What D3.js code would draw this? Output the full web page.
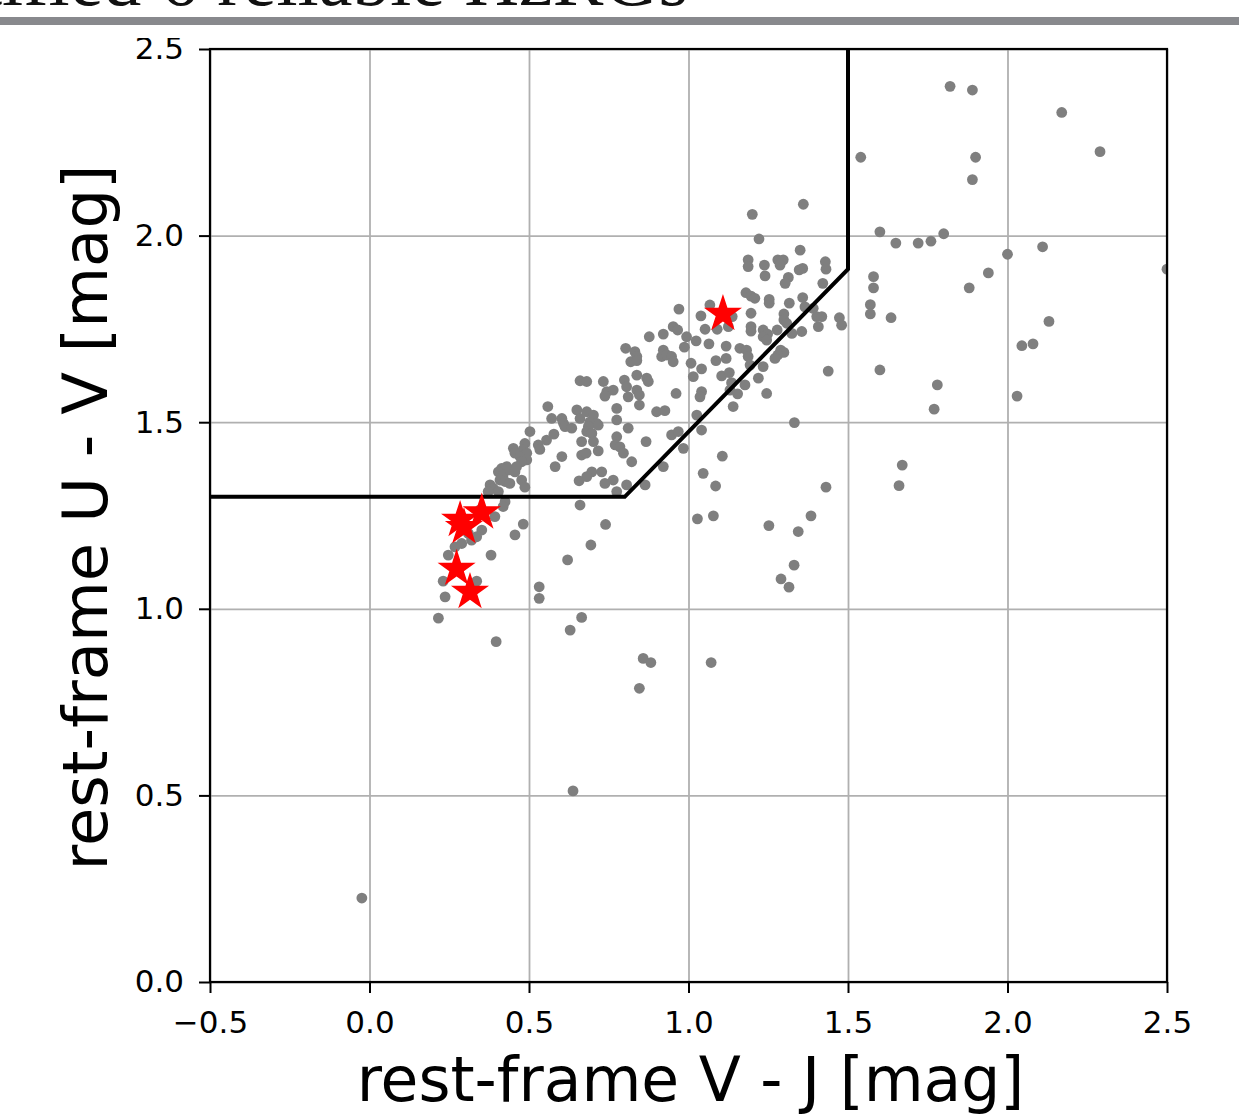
<!DOCTYPE html>
<html>
<head>
<meta charset="utf-8">
<script src="https://cdn.jsdelivr.net/npm/d3@7"></script>
<style>
  body { margin: 0; background: #fff; }
  svg { display: block; }
  text { font-family: "DejaVu Sans", sans-serif; }
</style>
</head>
<body>
<div id="chart"></div>
<script>
// rest-frame [V-J, U-V] of the comparison sample (gray dots)
const fieldGalaxies = [
  [1.82,2.40],[1.89,2.39],[2.17,2.33],[2.29,2.225],[1.54,2.21],[1.90,2.21],[1.89,2.15],[1.60,2.01],
  [1.65,1.98],[1.72,1.98],[1.76,1.985],[1.80,2.005],[2.00,1.95],[2.11,1.97],[2.50,1.91],[1.58,1.89],
  [1.58,1.86],[1.94,1.90],[1.88,1.86],[1.57,1.815],[1.57,1.79],[1.635,1.78],[2.13,1.77],[2.045,1.705],
  [2.08,1.71],[1.60,1.64],[1.78,1.60],[1.77,1.535],[2.03,1.57],[1.67,1.385],[1.66,1.33],
  [1.36,2.084],[1.20,2.057],[1.221,1.991],[1.35,1.961],[1.187,1.935],[1.187,1.917],[1.238,1.921],[1.24,1.892],
  [1.28,1.935],[1.297,1.935],[1.287,1.921],[1.358,1.912],[1.347,1.908],[1.429,1.93],[1.431,1.91],[1.313,1.888],
  [1.303,1.872],[1.421,1.872],[1.18,1.847],[1.196,1.838],[1.208,1.832],[1.253,1.829],[1.253,1.819],[1.316,1.819],
  [1.358,1.834],[0.97,1.803],[1.067,1.814],[1.039,1.785],[1.137,1.783],[1.052,1.749],[1.09,1.749],[1.125,1.756],
  [1.196,1.792],[1.196,1.756],[1.196,1.744],[1.234,1.747],[1.248,1.736],[1.299,1.79],[1.299,1.774],[1.278,1.747],
  [1.365,1.809],[1.391,1.805],[1.402,1.783],[1.418,1.783],[1.407,1.756],[1.473,1.78],[1.48,1.76],[1.355,1.743],
  [1.308,1.765],[1.324,1.738],[0.877,1.729],[0.921,1.736],[0.952,1.756],[0.966,1.747],[0.994,1.729],[1.024,1.718],
  [1.064,1.71],[1.118,1.704],[0.987,1.701],[0.921,1.693],[0.916,1.676],[0.932,1.68],[0.947,1.676],[0.952,1.662],
  [1.008,1.658],[1.086,1.665],[1.118,1.671],[1.161,1.698],[1.182,1.693],[1.187,1.676],[1.234,1.729],[1.245,1.72],
  [1.289,1.693],[1.299,1.687],[1.28,1.68],[1.271,1.671],[1.041,1.643],[1.015,1.622],[1.104,1.624],[1.128,1.633],
  [1.135,1.606],[1.193,1.653],[1.234,1.649],[1.219,1.618],[1.438,1.637],[0.869,1.618],[0.874,1.609],[0.961,1.577],
  [1.041,1.582],[1.036,1.568],[1.13,1.586],[1.154,1.576],[1.245,1.577],[1.177,1.6],
  [0.803,1.698],[0.832,1.689],[0.838,1.676],[0.819,1.662],[0.838,1.665],[0.838,1.626],[0.66,1.611],[0.681,1.609],
  [0.733,1.609],[0.799,1.613],[0.806,1.595],[0.811,1.568],[0.838,1.586],[0.846,1.573],[0.744,1.582],[0.764,1.586],
  [0.738,1.57],[0.846,1.546],[0.559,1.542],[0.65,1.533],[0.66,1.51],[0.681,1.528],[0.702,1.519],[0.691,1.501],
  [0.712,1.497],[0.717,1.492],[0.686,1.488],[0.681,1.475],[0.697,1.47],[0.775,1.537],[0.775,1.506],[0.811,1.484],
  [0.571,1.51],[0.603,1.51],[0.608,1.497],[0.613,1.488],[0.634,1.484],[0.503,1.475],[0.578,1.468],[0.555,1.452],
  [0.529,1.439],[0.534,1.427],[0.487,1.443],[0.482,1.427],[0.493,1.417],[0.493,1.399],[0.451,1.43],[0.456,1.417],
  [0.472,1.408],[0.477,1.394],[0.665,1.448],[0.702,1.448],[0.665,1.412],[0.679,1.417],[0.717,1.423],[0.775,1.461],
  [0.77,1.439],[0.785,1.434],[0.796,1.417],[0.822,1.394],[0.603,1.408],[0.582,1.381],[0.43,1.381],[0.414,1.376],
  [0.404,1.367],[0.419,1.359],[0.44,1.372],[0.456,1.367],[0.461,1.381],[0.409,1.345],[0.425,1.341],[0.44,1.336],
  [0.477,1.345],[0.378,1.332],[0.388,1.323],[0.697,1.367],[0.681,1.354],[0.657,1.343],[0.728,1.367],[0.738,1.336],
  [0.764,1.345],[0.806,1.332],[0.487,1.326],
  [0.404,1.314],[0.372,1.314],[0.425,1.287],[0.419,1.274],[0.393,1.247],[0.482,1.227],[0.456,1.198],[0.381,1.144],
  [0.352,1.211],[0.336,1.193],[0.32,1.184],[0.289,1.175],[0.268,1.166],[0.247,1.144],[0.231,1.074],[0.336,1.074],
  [0.237,1.032],[0.216,0.975],[0.532,1.059],[0.532,1.028],[0.621,1.131],[0.694,1.171],[0.66,1.278],[0.74,1.226],
  [0.665,0.977],[0.346,1.265],[0.31,1.202],[0.775,1.314],[0.629,0.943],[0.397,0.912],[0.858,0.867],[0.882,0.856],
  [0.846,0.787],[1.071,0.856],[0.638,0.512],[-0.024,0.225],
  [0.9,1.528],[0.926,1.531],[0.867,1.448],[0.947,1.466],[0.968,1.475],[0.984,1.43],[0.921,1.381],[0.864,1.332],
  [1.026,1.519],[1.041,1.479],[1.14,1.542],[1.332,1.499],[1.106,1.409],[1.046,1.363],[1.085,1.329],[1.028,1.241],
  [1.078,1.249],[1.252,1.223],[1.344,1.207],[1.384,1.249],[1.331,1.117],[1.29,1.08],[1.315,1.058],[1.431,1.326]
];

// the 6 reliable HzRGs (red stars)
const hzrgs = [
  [1.108,1.79],[0.352,1.258],[0.284,1.238],[0.296,1.219],[0.273,1.107],[0.315,1.045]
];

// quiescent selection box
const boxVJ = [-0.7, 0.8, 1.5, 1.5];
const boxUV = [1.3, 1.3, 1.91, 2.8];

const xTicks = [-0.5, 0.0, 0.5, 1.0, 1.5, 2.0, 2.5];
const yTicks = [0.0, 0.5, 1.0, 1.5, 2.0, 2.5];
const titleText = "Identified 6 reliable HzRGs";

const margin = { top: 49, right: 72, bottom: 137, left: 210 };
const width = 1239 - margin.left - margin.right;
const height = 1119 - margin.top - margin.bottom;

const svgRoot = d3.select("#chart")
  .append("svg")
  .attr("width", 1239)
  .attr("height", 1119);

const svg = svgRoot.append("g")
  .attr("transform", `translate(${margin.left},${margin.top})`);

const x = d3.scaleLinear().domain([-0.5, 2.5]).range([0, width]);
const y = d3.scaleLinear().domain([0, 2.5]).range([height, 0]);

svg.append("clipPath")
  .attr("id", "plot-clip")
  .append("rect")
  .attr("width", width)
  .attr("height", height);

// grid
svg.append("g")
  .call(d3.axisBottom(x).tickValues(xTicks).tickSize(height).tickFormat(""))
  .call(g => g.select(".domain").remove())
  .selectAll("line")
  .attr("stroke", "#b0b0b0")
  .attr("stroke-width", 1.8);

svg.append("g")
  .call(d3.axisLeft(y).tickValues(yTicks).tickSize(-width).tickFormat(""))
  .call(g => g.select(".domain").remove())
  .selectAll("line")
  .attr("stroke", "#b0b0b0")
  .attr("stroke-width", 1.8);

const plot = svg.append("g").attr("clip-path", "url(#plot-clip)");

// gray dots
plot.selectAll(".field")
  .data(fieldGalaxies)
  .enter()
  .append("circle")
  .attr("class", "field")
  .attr("cx", d => x(d[0]))
  .attr("cy", d => y(d[1]))
  .attr("r", 5.4)
  .attr("fill", "#7f7f7f");

// selection line
const line = d3.line()
  .x((d, i) => x(boxVJ[i]))
  .y(d => y(d));

plot.append("path")
  .datum(boxUV)
  .attr("fill", "none")
  .attr("stroke", "#000")
  .attr("stroke-width", 4)
  .attr("stroke-linejoin", "miter")
  .attr("d", line);

// stars
plot.selectAll(".hzrg")
  .data(hzrgs)
  .enter()
  .append("path")
  .attr("class", "hzrg")
  .attr("transform", d => `translate(${x(d[0])},${y(d[1])})`)
  .attr("d", d3.symbol().type(d3.symbolStar).size(450))
  .attr("fill", "#ff0000");

// frame
svg.append("rect")
  .attr("width", width)
  .attr("height", height)
  .attr("fill", "none")
  .attr("stroke", "#000")
  .attr("stroke-width", 2.2);

// axes
const xAxis = svg.append("g")
  .attr("transform", `translate(0,${height})`)
  .call(d3.axisBottom(x).tickValues(xTicks).tickFormat(d3.format(".1f")).tickSize(11).tickPadding(18));

const yAxis = svg.append("g")
  .call(d3.axisLeft(y).tickValues(yTicks).tickFormat(d3.format(".1f")).tickSize(11).tickPadding(15));

[xAxis, yAxis].forEach(a => {
  a.select(".domain").remove();
  a.selectAll("line").attr("stroke", "#000").attr("stroke-width", 2);
  a.selectAll("text")
    .attr("fill", "#000")
    .style("font-family", "'DejaVu Sans', sans-serif")
    .style("font-size", "31px");
});

// axis labels
svg.append("text")
  .attr("x", width / 2 + 2)
  .attr("y", height + 119)
  .attr("text-anchor", "middle")
  .style("font-size", "61.5px")
  .text("rest-frame V - J [mag]");

svg.append("text")
  .attr("transform", "rotate(-90)")
  .attr("x", -height / 2 - 2)
  .attr("y", -103)
  .attr("text-anchor", "middle")
  .style("font-size", "62.5px")
  .text("rest-frame U - V [mag]");

// slide header (cut off at the top of the picture)
svgRoot.append("rect")
  .attr("width", 1239)
  .attr("height", 38)
  .attr("fill", "#fff");

svgRoot.append("text")
  .attr("x", 688)
  .attr("y", 5)
  .attr("text-anchor", "end")
  .style("font-family", "'Liberation Serif', 'DejaVu Serif', serif")
  .style("font-size", "76px")
  .attr("fill", "#111")
  .text(titleText);

svgRoot.append("rect")
  .attr("y", 17)
  .attr("width", 1239)
  .attr("height", 8)
  .attr("fill", "#88898d");
</script>
</body>
</html>
